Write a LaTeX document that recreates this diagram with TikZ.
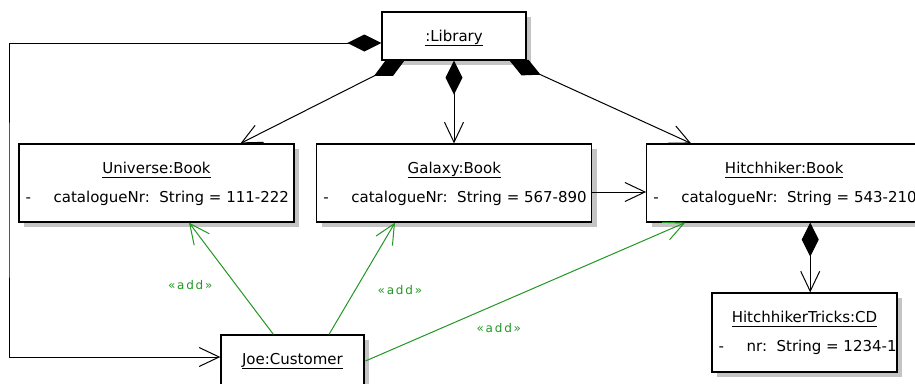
\documentclass[tikz,border=0pt]{standalone}
\usepackage{fontspec}
\usetikzlibrary{arrows.meta,shadows,calc}

\newfontfamily\objfamily{DejaVu Sans}
\newfontfamily\stereofamily[LetterSpace=15]{DejaVu Sans}
\newcommand\objfont{\objfamily\fontsize{15pt}{18pt}\selectfont}
\newcommand\stereofont{\stereofamily\fontsize{12pt}{14pt}\selectfont}
% underlined object name (UML instance notation)
\newcommand\objname[1]{\sbox0{#1}\rlap{\usebox0}\rule[-4.6pt]{\wd0}{1.2pt}}

\definecolor{addgreen}{RGB}{34,150,34}
\definecolor{shadowgray}{RGB}{196,196,196}

\tikzset{
  obj/.style={draw=black, line width=1.2pt, fill=white, inner sep=0pt,
    drop shadow={shadow xshift=5pt, shadow yshift=-5pt, fill=shadowgray, opacity=1}},
  objtitle/.style={anchor=base, inner sep=0pt, font=\objfont},
  attr/.style={anchor=base west, inner sep=0pt, font=\objfont},
  barb/.tip={Straight Barb[length=20pt, width=19pt]},
  link/.style={draw=black, line width=1pt},
  comp/.style={link, {Diamond[length=34pt, width=17pt]}-barb},
  nav/.style={link, -barb},
  dep/.style={draw=addgreen, line width=1pt, -barb},
  addlabel/.style={text=addgreen, font=\stereofont, inner sep=0pt}
}

\begin{document}
\begin{tikzpicture}[x=1pt, y=-1pt]
\useasboundingbox (0,0) rectangle (915,383);

% objects
\node[obj, minimum width=144pt, minimum height=48pt] (library) at (454,36) {};
\node[obj, minimum width=275pt, minimum height=78pt] (universe) at (156.5,183) {};
\node[obj, minimum width=275pt, minimum height=78pt] (galaxy) at (454.3,183) {};
\node[obj, minimum width=275pt, minimum height=78pt] (hitchhiker) at (784.2,183) {};
\node[obj, minimum width=185pt, minimum height=79pt] (cd) at (804.5,332.5) {};
\node[obj, minimum width=143pt, minimum height=50pt] (customer) at (292.4,360) {};

% names and attributes
\node[objtitle] (library-name) at ($(library.north)+(0,30)$) {\objname{:Library}};

\node[objtitle] (universe-name) at ($(universe.north)+(0,30)$) {\objname{Universe:Book}};
\node[attr] (universe-attr) at ($(universe.north west)+(7,59)$)
  {\makebox[28pt][l]{-}catalogueNr:\ \ String = 111-222};

\node[objtitle] (galaxy-name) at ($(galaxy.north)+(0,30)$) {\objname{Galaxy:Book}};
\node[attr] (galaxy-attr) at ($(galaxy.north west)+(7,59)$)
  {\makebox[28pt][l]{-}catalogueNr:\ \ String = 567-890};

\node[objtitle] (hitchhiker-name) at ($(hitchhiker.north)+(0,30)$) {\objname{Hitchhiker:Book}};
\node[attr] (hitchhiker-attr) at ($(hitchhiker.north west)+(7,59)$)
  {\makebox[28pt][l]{-}catalogueNr:\ \ String = 543-210};

\node[objtitle] (cd-name) at ($(cd.north)+(0,30)$) {\objname{HitchhikerTricks:CD}};
\node[attr] (cd-attr) at ($(cd.north west)+(7,59)$)
  {\makebox[28pt][l]{-}nr:\ \ String = 1234-1};

\node[objtitle] (customer-name) at ($(customer.north)+(0,30)$) {\objname{Joe:Customer}};

% composition links
\draw[comp] ($(library.south west)+(23,0)$) -- ($(universe.north)+(84,0)$);
\draw[comp] (library.south) -- (library.south |- galaxy.north);
\draw[comp] ($(library.south east)+(-17,0)$) -- ($(hitchhiker.north west)+(45,0)$);
\coordinate (cdlink) at ($(hitchhiker.south)+(26,0)$);
\draw[comp] (cdlink) -- (cdlink |- cd.north);
\coordinate (leftrail) at (9,200);
\draw[comp] ($(library.west)+(0,7)$) -| (leftrail) |- ($(customer.west)+(0,-3)$);

% association link
\draw[nav] ($(galaxy.east)+(0,9)$) -- ($(hitchhiker.west)+(0,9)$);

% dependencies
\draw[dep] ($(customer.north)+(-19,0)$) -- node[addlabel, pos=0.446, xshift=-45.5pt] {«add»}
  ($(universe.south)+(32.5,0)$);
\draw[dep] ($(customer.north)+(36.6,0)$) -- node[addlabel, pos=0.393, xshift=45pt] {«add»}
  ($(galaxy.south)+(-59.3,0)$);
\draw[dep] ($(customer.east)+(1,1)$) -- node[addlabel, pos=0.417, yshift=-24.6pt] {«add»}
  ($(hitchhiker.south)+(-99,0)$);
\end{tikzpicture}
\end{document}
